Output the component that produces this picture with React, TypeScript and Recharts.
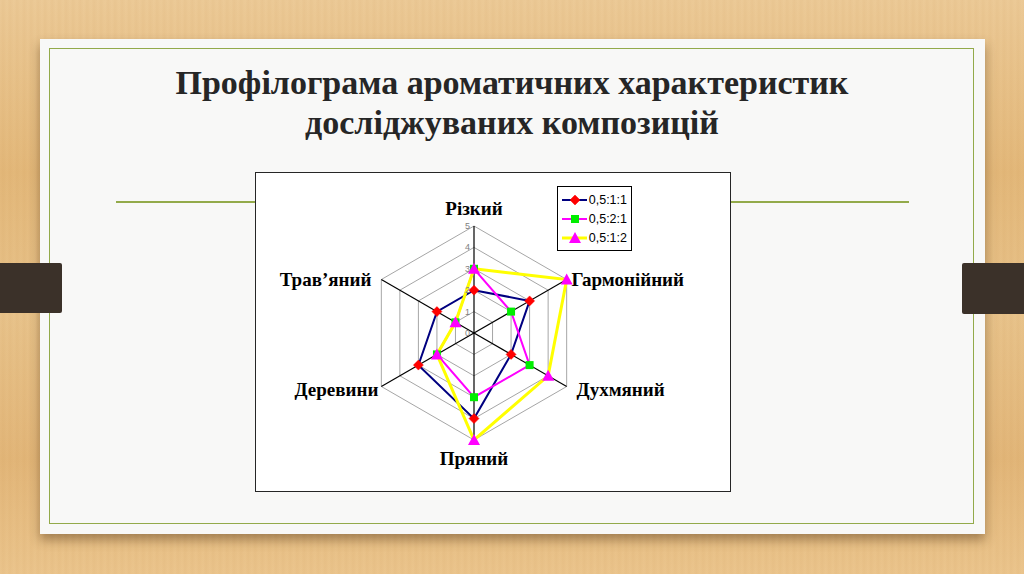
import React from 'react';
import {
  RadarChart,
  Radar,
  PolarGrid,
  PolarAngleAxis,
  PolarRadiusAxis,
  Legend,
} from 'recharts';

const categories = ['Різкий', 'Гармонійний', 'Духмяний', 'Пряний', 'Деревини', 'Трав’яний'];
const series1 = [2, 3, 2, 4, 3, 2];
const series2 = [3, 2, 3, 3, 2, 1];
const series3 = [3, 5, 4, 5, 2, 1];
const seriesNames = ['0,5:1:1', '0,5:2:1', '0,5:1:2'];
const radiusTicks = [0, 1, 2, 3, 4, 5];

const data = categories.map((c, i) => ({
  name: c,
  s1: series1[i],
  s2: series2[i],
  s3: series3[i],
}));

const CX = 218;
const CY = 160;
const R = 107;

const SERIF = '"Liberation Serif", "Times New Roman", serif';
const SANS = '"Liberation Sans", Arial, sans-serif';

const lineColors = ['#000080', '#ff00ff', '#ffff00'];
const lineWidths = [2, 2, 3];

function Marker({ kind, cx, cy }: { kind: number; cx: number; cy: number }) {
  if (kind === 0) {
    const s = 5;
    return (
      <polygon
        points={`${cx},${cy - s} ${cx + s},${cy} ${cx},${cy + s} ${cx - s},${cy}`}
        fill="#ff0000"
        stroke="#ff0000"
        strokeWidth={0.5}
      />
    );
  }
  if (kind === 1) {
    const s = 4;
    return <rect x={cx - s} y={cy - s} width={2 * s} height={2 * s} fill="#00ee00" />;
  }
  const w = 6;
  return (
    <polygon
      points={`${cx},${cy - 6} ${cx + w},${cy + 5} ${cx - w},${cy + 5}`}
      fill="#ff00ff"
    />
  );
}

const makeDot = (kind: number) => (props: any) => {
  const { cx, cy, index } = props;
  if (cx == null || cy == null) return <g key={`d${kind}-${index}`} />;
  return (
    <g key={`d${kind}-${index}`}>
      <Marker kind={kind} cx={cx} cy={cy} />
    </g>
  );
};

const AngleTick = (props: any) => {
  const { x, y, payload, textAnchor } = props;
  let dx = 0;
  let dy = 0;
  if (textAnchor === 'middle') {
    dy = y < CY ? -10 : 10;
  } else {
    const upper = y < CY;
    dy = upper ? 3.5 : -1.5;
    if (textAnchor === 'start') dx = upper ? -2 : 3;
    else dx = upper ? -3 : 4;
  }
  return (
    <text
      x={x + dx}
      y={y + dy}
      textAnchor={textAnchor}
      dominantBaseline="central"
      fontFamily={SERIF}
      fontWeight="bold"
      fontSize={19}
      fill="#000"
    >
      {payload.value}
    </text>
  );
};

const RadiusTick = (props: any) => {
  const { x, y, payload } = props;
  return (
    <text
      x={x - 4}
      y={y}
      textAnchor="end"
      dominantBaseline="central"
      fontFamily={SANS}
      fontSize={9}
      fill="#808080"
    >
      {payload.value}
    </text>
  );
};

const LegendContent = () => (
  <div
    style={{
      border: '1px solid #000',
      background: '#fff',
      padding: '3px 4px 3px 3px',
      width: 66,
      boxSizing: 'content-box',
    }}
  >
    {seriesNames.map((n, i) => (
      <div
        key={n}
        style={{ display: 'flex', alignItems: 'center', height: 19, fontFamily: SANS, fontSize: 12.5, color: '#000' }}
      >
        <svg width={28} height={14} style={{ display: 'block' }}>
          <line x1={1} y1={7} x2={27} y2={7} stroke={lineColors[i]} strokeWidth={lineWidths[i]} />
          <Marker kind={i} cx={14} cy={7} />
        </svg>
        <span style={{ marginLeft: 2 }}>{n}</span>
      </div>
    ))}
  </div>
);

export default function App() {
  return (
    <div
      style={{
        position: 'absolute',
        left: 0,
        top: 0,
        width: 1024,
        height: 574,
        overflow: 'hidden',
        background:
          'repeating-linear-gradient(90deg, rgba(180,120,50,0.00) 0px, rgba(180,120,50,0.06) 3px, rgba(180,120,50,0.0) 7px), linear-gradient(180deg, #ecca97 0%, #e3b87a 30%, #e8c38b 55%, #e2b679 80%, #ebc58d 100%)',
      }}
    >
      {/* slide */}
      <div
        style={{
          position: 'absolute',
          left: 40,
          top: 39,
          width: 945,
          height: 495,
          background: '#f8f8f7',
          boxShadow: '0 6px 10px rgba(80,50,20,0.45)',
        }}
      />
      <div
        style={{
          position: 'absolute',
          left: 49,
          top: 48,
          width: 925,
          height: 476,
          border: '1.5px solid #93aa4a',
          boxSizing: 'border-box',
        }}
      />
      <div style={{ position: 'absolute', left: 116, top: 201, width: 793, height: 1.5, background: '#93aa4a' }} />
      {/* tabs */}
      <div style={{ position: 'absolute', left: 0, top: 263, width: 62, height: 50, background: '#3b3129', borderRadius: '0 2px 2px 0' }} />
      <div style={{ position: 'absolute', left: 962, top: 263, width: 62, height: 51, background: '#3b3129', borderRadius: '2px 0 0 2px' }} />
      {/* title */}
      <div
        style={{
          position: 'absolute',
          left: 0,
          top: 63,
          width: 1024,
          textAlign: 'center',
          fontFamily: SERIF,
          fontWeight: 'bold',
          fontSize: 34,
          lineHeight: '40px',
          color: '#262626',
        }}
      >
        Профілограма ароматичних характеристик
        <br />
        досліджуваних композицій
      </div>
      {/* chart box */}
      <div
        style={{
          position: 'absolute',
          left: 255,
          top: 172,
          width: 476,
          height: 320,
          border: '1.5px solid #262626',
          boxSizing: 'border-box',
          background: '#ffffff',
        }}
      >
        <RadarChart
          width={473}
          height={317}
          data={data}
          cx={CX}
          cy={CY}
          outerRadius={R}
          margin={{ top: 0, right: 0, bottom: 0, left: 0 }}
          style={{ overflow: 'visible' }}
        >
          <PolarGrid gridType="polygon" radialLines={false} stroke="#a6a6a6" strokeWidth={1} />
          <PolarGrid gridType="polygon" polarRadius={[]} radialLines={true} stroke="#000" strokeWidth={1.2} />
          <PolarAngleAxis dataKey="name" tick={AngleTick} tickLine={false} axisLine={false} />
          <PolarRadiusAxis
            angle={90}
            domain={[0, 5]}
            ticks={radiusTicks as any}
            tickCount={6}
            tick={RadiusTick}
            axisLine={false}
            tickLine={false}
          />
          <Radar
            name={seriesNames[0]}
            dataKey="s1"
            stroke={lineColors[0]}
            strokeWidth={lineWidths[0]}
            fill="none"
            fillOpacity={0}
            dot={makeDot(0)}
            isAnimationActive={false}
          />
          <Radar
            name={seriesNames[1]}
            dataKey="s2"
            stroke={lineColors[1]}
            strokeWidth={lineWidths[1]}
            fill="none"
            fillOpacity={0}
            dot={makeDot(1)}
            isAnimationActive={false}
          />
          <Radar
            name={seriesNames[2]}
            dataKey="s3"
            stroke={lineColors[2]}
            strokeWidth={lineWidths[2]}
            fill="none"
            fillOpacity={0}
            dot={makeDot(2)}
            isAnimationActive={false}
          />
          <Legend
            content={LegendContent}
            layout="vertical"
            align="right"
            verticalAlign="middle"
            wrapperStyle={{ position: 'absolute', left: 301, top: 13, width: 'auto', height: 'auto' }}
          />
        </RadarChart>
      </div>
    </div>
  );
}
